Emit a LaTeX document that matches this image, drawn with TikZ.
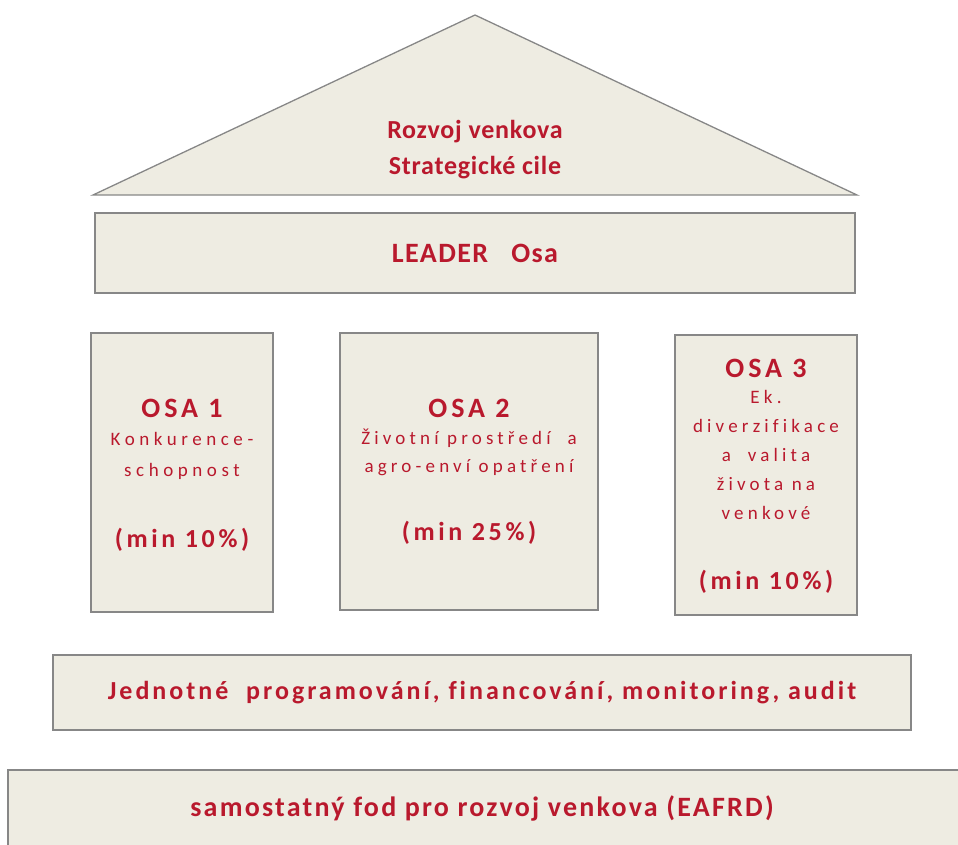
\documentclass[tikz,border=0pt]{standalone}
\usepackage{fontspec}
\setmainfont{Carlito}[Ligatures=NoCommon]
\usetikzlibrary{positioning}
\definecolor{pilir}{RGB}{238,236,226}
\definecolor{okraj}{RGB}{135,135,135}
\definecolor{vinova}{RGB}{185,25,45}
\newcommand{\rozlet}[1]{\addfontfeatures{LetterSpace=#1}}
\begin{document}
\begin{tikzpicture}[x=1pt, y=-1pt,
	blok/.style={draw=okraj, fill=pilir, line width=1.3pt},
	napis/.style={text=vinova, align=center, inner sep=0pt},
	velky/.style={napis, font=\bfseries\fontsize{26}{36}\selectfont\rozlet{3}},
	osa/.style={napis, font=\bfseries\fontsize{28}{30}\selectfont\rozlet{14}},
	maly/.style={napis, font=\fontsize{19}{29}\selectfont\rozlet{22}},
	procento/.style={napis, font=\bfseries\fontsize{26}{28}\selectfont\rozlet{14}}]
	\useasboundingbox (0,0) rectangle (958,844);
	
	% Střecha
	\draw[blok] (93,195) -- (475,15) -- (857,195) -- cycle;
	\node[velky] (cile) at (475,150) {Rozvoj venkova\\Strategické cile};
	
	% LEADER
	\node[blok, minimum width=760, minimum height=80] (leader) at (475,253) {};
	\node[velky, font=\bfseries\fontsize{28}{36}\selectfont\rozlet{5}] (leadertxt) at (leader.center) {LEADER\ \ \ Osa};
	
	% Sloupy
	\node[blok, minimum width=182, minimum height=279] (osa1) at (182,472.5) {};
	\node[blok, minimum width=258, minimum height=277] (osa2) at (469,471.5) {};
	\node[blok, minimum width=182, minimum height=280] (osa3) at (766,475) {};
	
	\node[osa] (osa1t) at (182,408) {OSA 1};
	\node[maly, font=\fontsize{19}{31}\selectfont\rozlet{24}] (osa1p) at (182,456) {Konkurence-\\schopnost};
	\node[procento] (osa1m) at (182,540) {(min 10\%)};
	
	\node[osa] (osa2t) at (469,408) {OSA 2};
	\node[maly, font=\fontsize{19}{28}\selectfont\rozlet{22}] (osa2p) at (469,452) {Životní prostředí\ \ a\\agro-enví opatření};
	\node[procento] (osa2m) at (469,533) {(min 25\%)};
	
	\node[osa] (osa3t) at (766,368) {OSA 3};
	\node[maly] (osa3p) at (766,455) {Ek.\\diverzifikace\\a\ \ valita\\života na\\venkové};
	\node[procento] (osa3m) at (766,582) {(min 10\%)};
	
	% Základy
	\node[blok, minimum width=858, minimum height=75] (jednotne) at (482,692.5) {};
	\node[velky, font=\bfseries\fontsize{26}{36}\selectfont\rozlet{11.5}] (jednotnetxt) at (jednotne.center) {Jednotné\ \ programování, financování, monitoring, audit};
	
	\node[blok, minimum width=970, minimum height=90] (fond) at (493,815) {};
	\node[velky, font=\bfseries\fontsize{28}{36}\selectfont\rozlet{8}] (fondtxt) at (482,808) {samostatný fod pro rozvoj venkova (EAFRD)};
\end{tikzpicture}
\end{document}
